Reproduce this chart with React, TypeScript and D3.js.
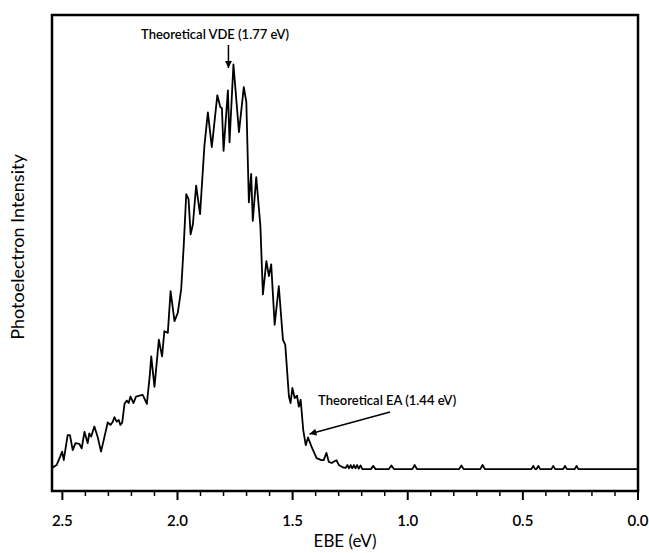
import React, { useEffect, useRef } from 'react';
import * as d3 from 'd3';

// binding energy (eV) and photoelectron intensity (arb. units)
const ebe = [
  2.545, 2.525, 2.510, 2.501, 2.494, 2.477, 2.467, 2.455, 2.443, 2.426,
  2.416, 2.404, 2.390, 2.383, 2.375, 2.361, 2.347, 2.332, 2.317, 2.303,
  2.291, 2.281, 2.274, 2.264, 2.255, 2.248, 2.240, 2.230, 2.220, 2.212,
  2.204, 2.191, 2.180, 2.165, 2.151, 2.133, 2.120, 2.114, 2.100, 2.081,
  2.067, 2.057, 2.042, 2.030, 2.013, 1.999, 1.984, 1.973, 1.962, 1.952,
  1.943, 1.933, 1.919, 1.902, 1.883, 1.868, 1.851, 1.827, 1.814, 1.807,
  1.800, 1.781, 1.774, 1.757, 1.733, 1.712, 1.701, 1.690, 1.680, 1.673,
  1.658, 1.640, 1.629, 1.614, 1.603, 1.593, 1.578, 1.560, 1.542, 1.532,
  1.516, 1.509, 1.501, 1.491, 1.481, 1.473, 1.465, 1.454, 1.443, 1.433,
  1.417, 1.396, 1.375, 1.365, 1.353, 1.343, 1.330, 1.322, 1.310, 1.299,
  1.281,
];
const intensity = [
  0.3, 1.0, 3.0, 4.3, 2.2, 8.4, 8.4, 4.7, 6.4, 6.2,
  5.1, 9.2, 6.4, 8.8, 8.0, 10.5, 8.0, 4.3, 8.0, 11.5,
  10.9, 11.7, 12.8, 11.7, 12.1, 10.9, 11.5, 16.1, 16.9, 16.3,
  17.9, 16.3, 17.9, 18.1, 18.3, 16.1, 23.3, 27.8, 20.3, 31.9,
  27.8, 34.0, 33.6, 43.9, 36.5, 38.5, 44.3, 55.0, 67.8, 66.6,
  57.9, 60.4, 69.9, 62.9, 79.8, 88.0, 79.4, 92.2, 89.3, 89.0,
  78.5, 93.4, 80.6, 99.8, 83.1, 94.2, 90.5, 65.8, 72.8, 61.2,
  72.0, 60.0, 43.1, 51.3, 47.6, 50.5, 35.6, 45.1, 31.9, 30.7,
  17.9, 16.3, 20.0, 17.5, 18.1, 15.4, 17.1, 9.7, 5.9, 7.8,
  5.4, 2.7, 2.2, 2.2, 4.0, 1.8, 1.5, 1.8, 2.2, 1.0,
  0.4,
];

// baseline tail with small noise blips
const tailEbe = [
  1.270, 1.262, 1.255, 1.248, 1.241, 1.234, 1.227, 1.220, 1.213, 1.205, 1.197,
  1.160, 1.150, 1.140,
  1.082, 1.071, 1.060,
  0.980, 0.970, 0.960,
  0.777, 0.767, 0.757,
  0.685, 0.675, 0.665,
  0.463, 0.455, 0.447, 0.441, 0.433, 0.425,
  0.376, 0.368, 0.360,
  0.325, 0.317, 0.309,
  0.275, 0.267, 0.259,
  0.0,
];
const tailIntensity = [
  0.3, 1.0, 0.2, 1.0, 0.2, 1.0, 0.2, 1.0, 0.1, 0.9, 0.0,
  0.0, 0.8, 0.0,
  0.0, 0.9, 0.0,
  0.0, 1.0, 0.0,
  0.0, 0.9, 0.0,
  0.0, 1.0, 0.0,
  0.0, 0.8, 0.0, 0.0, 0.8, 0.0,
  0.0, 0.8, 0.0,
  0.0, 0.8, 0.0,
  0.0, 0.8, 0.0,
  0.0,
];

const majorTicks = [2.5, 2.0, 1.5, 1.0, 0.5, 0.0];
const vdeValue = 1.77;
const eaValue = 1.44;

const font = 'Lato, "Open Sans", sans-serif';

export default function App() {
  const ref = useRef<SVGSVGElement>(null);

  useEffect(() => {
    document.body.style.margin = '0';
    const width = 649;
    const height = 553;
    const margin = { top: 15, right: 11, bottom: 62, left: 52 };

    const svg = d3.select(ref.current);
    svg.selectAll('*').remove();

    const x = d3.scaleLinear().domain([2.545, 0]).range([margin.left, width - margin.right]);
    const y = d3.scaleLinear().domain([-5.4, 112]).range([height - margin.bottom, margin.top]);

    const defs = svg.append('defs');
    defs.append('marker')
      .attr('id', 'head')
      .attr('viewBox', '0 0 10 10')
      .attr('refX', 10)
      .attr('refY', 5)
      .attr('markerWidth', 8)
      .attr('markerHeight', 7)
      .attr('markerUnits', 'userSpaceOnUse')
      .attr('orient', 'auto')
      .append('path')
      .attr('d', 'M0,0 L10,5 L0,10 Z')
      .attr('fill', '#000');

    const pts: [number, number][] = ebe.map((e, i) => [e, intensity[i]] as [number, number])
      .concat(tailEbe.map((e, i) => [e, tailIntensity[i]] as [number, number]));

    const line = d3.line<[number, number]>()
      .x(d => x(d[0]))
      .y(d => y(d[1]));

    svg.append('path')
      .datum(pts)
      .attr('d', line)
      .attr('fill', 'none')
      .attr('stroke', '#000')
      .attr('stroke-width', 1.8)
      .attr('stroke-linejoin', 'round');

    // frame
    const [y0, y1] = y.range();
    svg.append('rect')
      .attr('x', margin.left)
      .attr('y', y1)
      .attr('width', width - margin.right - margin.left)
      .attr('height', y0 - y1)
      .attr('fill', 'none')
      .attr('stroke', '#000')
      .attr('stroke-width', 2.5);

    // x axis ticks
    const minor = d3.range(0, 26).map(i => i / 10).filter(v => !majorTicks.some(m => Math.abs(m - v) < 1e-6));
    const axisG = svg.append('g').attr('transform', `translate(0, ${y0})`);
    axisG.selectAll('line.major')
      .data(majorTicks)
      .enter()
      .append('line')
      .attr('x1', d => x(d)).attr('x2', d => x(d))
      .attr('y1', 0).attr('y2', 9)
      .attr('stroke', '#000').attr('stroke-width', 2);
    axisG.selectAll('line.minor')
      .data(minor)
      .enter()
      .append('line')
      .attr('x1', d => x(d)).attr('x2', d => x(d))
      .attr('y1', 0).attr('y2', 5)
      .attr('stroke', '#000').attr('stroke-width', 1.5);
    axisG.selectAll('text')
      .data(majorTicks)
      .enter()
      .append('text')
      .attr('x', d => x(d))
      .attr('y', 35)
      .attr('text-anchor', 'middle')
      .attr('font-family', font)
      .attr('font-size', 15)
      .attr('font-weight', 600)
      .attr('fill', '#000')
      .text(d => d3.format('.1f')(d));

    // axis titles
    svg.append('text')
      .attr('x', (margin.left + width - margin.right) / 2)
      .attr('y', 547)
      .attr('text-anchor', 'middle')
      .attr('font-family', font)
      .attr('font-size', 17)
      .attr('fill', '#000')
      .text('EBE (eV)');
    svg.append('text')
      .attr('transform', `translate(24, 247) rotate(-90)`)
      .attr('text-anchor', 'middle')
      .attr('font-family', font)
      .attr('font-size', 18)
      .attr('fill', '#000')
      .text('Photoelectron Intensity');

    // annotations
    svg.append('text')
      .attr('x', 215)
      .attr('y', 39)
      .attr('text-anchor', 'middle')
      .attr('font-family', font)
      .attr('font-size', 13)
      .attr('font-weight', 600)
      .attr('fill', '#000')
      .text('Theoretical VDE (1.77 eV)');
    svg.append('line')
      .attr('x1', x(vdeValue) - 2).attr('x2', x(vdeValue) - 2)
      .attr('y1', 45).attr('y2', 68)
      .attr('stroke', '#000').attr('stroke-width', 1.5)
      .attr('marker-end', 'url(#head)');

    svg.append('text')
      .attr('x', 318)
      .attr('y', 405)
      .attr('font-family', font)
      .attr('font-size', 13)
      .attr('font-weight', 600)
      .attr('fill', '#000')
      .text('Theoretical EA (1.44 eV)');
    svg.append('line')
      .attr('x1', 390).attr('y1', 412)
      .attr('x2', x(eaValue) + 3).attr('y2', 434)
      .attr('stroke', '#000').attr('stroke-width', 1.5)
      .attr('marker-end', 'url(#head)');
  }, []);

  return (
    <div>
      <svg ref={ref} width={649} height={553} style={{ display: 'block', background: '#fff' }} />
    </div>
  );
}
